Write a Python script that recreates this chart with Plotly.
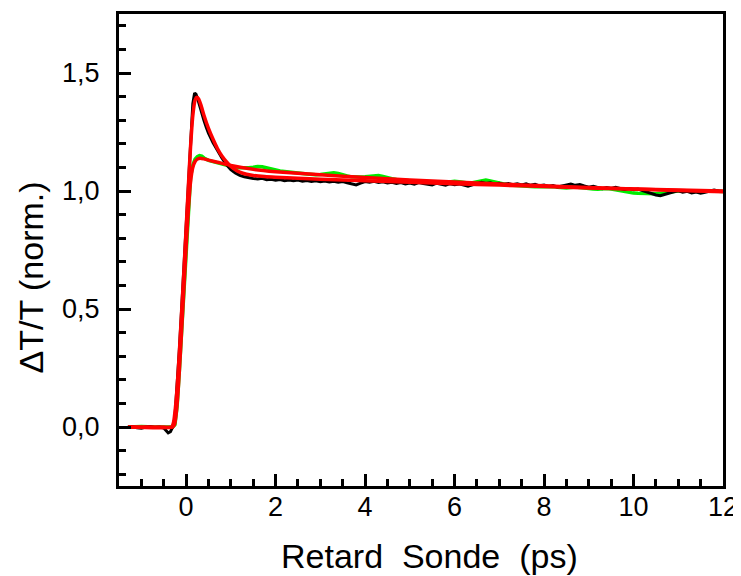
import plotly.graph_objects as go

# ---------------- data ----------------
# black measured trace: head (baseline + rise + peak + fast decay)
black_head_t = [-1.3, -1.2, -1.1, -1.0, -0.9, -0.8, -0.7, -0.6, -0.5, -0.45, -0.4, -0.35,
                -0.3, -0.25, -0.2, -0.15, -0.1, -0.05, 0.0, 0.05, 0.1, 0.15, 0.19, 0.22,
                0.26, 0.3, 0.35, 0.4, 0.45, 0.5, 0.6, 0.7, 0.8, 0.9, 1.0, 1.1, 1.2, 1.3, 1.4]
black_head_v = [0.0, 0.002, -0.003, -0.005, 0.0, 0.002, -0.002, 0.0, -0.004, -0.015, -0.025, -0.02,
                0.0, 0.04, 0.17, 0.33, 0.50, 0.67, 0.85, 1.03, 1.22, 1.37, 1.415, 1.41,
                1.39, 1.362, 1.328, 1.298, 1.27, 1.245, 1.205, 1.17, 1.14, 1.112, 1.09, 1.076, 1.066, 1.06, 1.055]
# black tail, sampled every 0.1 ps from 1.5 to 12.0
black_tail_t = [round(1.5 + 0.1 * i, 1) for i in range(106)]
black_tail_v = [1.053, 1.051, 1.054, 1.048, 1.050, 1.046, 1.049, 1.044, 1.047, 1.043,
                1.046, 1.041, 1.044, 1.040, 1.043, 1.039, 1.042, 1.038, 1.041, 1.037,
                1.040, 1.035, 1.031, 1.026, 1.033, 1.040, 1.037, 1.041, 1.036, 1.039,
                1.034, 1.037, 1.032, 1.036, 1.030, 1.034, 1.029, 1.036, 1.032, 1.028,
                1.026, 1.033, 1.029, 1.025, 1.031, 1.027, 1.030, 1.024, 1.020, 1.026,
                1.032, 1.037, 1.032, 1.035, 1.029, 1.033, 1.028, 1.032, 1.027, 1.031,
                1.026, 1.030, 1.024, 1.028, 1.022, 1.025, 1.019, 1.023, 1.017, 1.021,
                1.026, 1.029, 1.024, 1.027, 1.021, 1.016, 1.020, 1.014, 1.010, 1.015,
                1.011, 1.016, 1.012, 1.006, 1.010, 1.005, 1.008, 1.002, 0.994, 0.988,
                0.983, 0.980, 0.986, 0.993, 0.997, 1.001, 0.995, 0.999, 0.992, 0.996,
                0.991, 0.995, 0.999, 1.004, 1.000, 0.998]

# green measured trace
green_head_t = [-1.3, -1.0, -0.7, -0.5, -0.4, -0.3, -0.25, -0.2, -0.15, -0.1, -0.05, 0.0,
                0.05, 0.1, 0.15, 0.2, 0.25, 0.3, 0.35, 0.4, 0.5, 0.6, 0.7, 0.8, 0.9]
green_head_v = [0.0, 0.002, 0.0, 0.001, 0.0, 0.0, 0.01, 0.09, 0.24, 0.41, 0.59, 0.78,
                0.94, 1.06, 1.11, 1.135, 1.145, 1.15, 1.148, 1.14, 1.13, 1.125, 1.12, 1.115, 1.11]
green_tail_t = [round(1.0 + 0.1 * i, 1) for i in range(111)]
green_tail_v = [1.104, 1.100, 1.098, 1.097, 1.099, 1.101, 1.104, 1.103, 1.098, 1.092,
                1.088, 1.085, 1.083, 1.080, 1.078, 1.076, 1.074, 1.072, 1.070, 1.069,
                1.070, 1.073, 1.076, 1.077, 1.074, 1.068, 1.064, 1.060, 1.058, 1.059,
                1.060, 1.062, 1.065, 1.066, 1.062, 1.056, 1.052, 1.049, 1.047, 1.046,
                1.044, 1.042, 1.040, 1.038, 1.036, 1.034, 1.033, 1.034, 1.036, 1.039,
                1.041, 1.039, 1.036, 1.034, 1.035, 1.039, 1.043, 1.046, 1.043, 1.038,
                1.033, 1.029, 1.026, 1.024, 1.022, 1.021, 1.020, 1.019, 1.018, 1.019,
                1.020, 1.021, 1.019, 1.016, 1.014, 1.013, 1.015, 1.017, 1.015, 1.012,
                1.010, 1.008, 1.007, 1.009, 1.011, 1.008, 1.004, 1.000, 0.996, 0.993,
                0.991, 0.990, 0.989, 0.988, 0.987, 0.988, 0.990, 0.993, 0.996, 0.998,
                1.000, 1.001, 1.000, 0.998, 0.997, 0.998, 1.000, 1.001, 1.000, 0.999,
                0.998]

# red fit curves
fit_black_t = [-1.3, -0.5, -0.32, -0.28, -0.24, -0.2, -0.15, -0.1, -0.05, 0.0, 0.05, 0.1,
               0.15, 0.2, 0.24, 0.28, 0.33, 0.4, 0.5, 0.6, 0.7, 0.8, 0.9, 1.0, 1.1, 1.2,
               1.35, 1.5, 1.75, 2.0, 2.5, 3.0, 4.0, 5.0, 6.0, 7.0, 8.0, 9.0, 10.0, 11.0, 12.0]
fit_black_v = [0.0, 0.0, 0.0, 0.02, 0.08, 0.17, 0.32, 0.49, 0.66, 0.84, 1.02, 1.19,
               1.32, 1.385, 1.397, 1.39, 1.365, 1.32, 1.265, 1.22, 1.18, 1.148, 1.124, 1.104, 1.09, 1.08,
               1.071, 1.066, 1.061, 1.058, 1.054, 1.05, 1.043, 1.037, 1.031, 1.025, 1.019, 1.013, 1.008, 1.002, 0.997]
fit_green_t = [-1.3, -0.3, -0.26, -0.22, -0.18, -0.12, -0.06, 0.0, 0.05, 0.1, 0.15, 0.2,
               0.25, 0.31, 0.4, 0.5, 0.7, 1.0, 1.5, 2.0, 2.5, 3.0, 4.0, 5.0, 6.0, 7.0, 8.0,
               9.0, 10.0, 11.0, 12.0]
fit_green_v = [0.0, 0.0, 0.01, 0.06, 0.15, 0.34, 0.55, 0.76, 0.92, 1.04, 1.10, 1.125,
               1.135, 1.139, 1.136, 1.131, 1.122, 1.108, 1.092, 1.082, 1.075, 1.069, 1.057, 1.047, 1.038, 1.030, 1.022,
               1.015, 1.009, 1.004, 1.0]

x_tickvals = [0, 2, 4, 6, 8, 10, 12]
x_ticktext = ["0", "2", "4", "6", "8", "10", "12"]
y_tickvals = [0.0, 0.5, 1.0, 1.5]
y_ticktext = ["0,0", "0,5", "1,0", "1,5"]
x_title = "Retard\u00a0 Sonde\u00a0 (ps)"
y_title = "ΔT/T (norm.)"

# ---------------- figure ----------------
fig = go.Figure()
fig.add_trace(go.Scatter(x=green_head_t + green_tail_t, y=green_head_v + green_tail_v,
                         mode="lines", line=dict(color="rgb(0,235,0)", width=3.5),
                         showlegend=False, hoverinfo="skip"))
fig.add_trace(go.Scatter(x=black_head_t + black_tail_t, y=black_head_v + black_tail_v,
                         mode="lines", line=dict(color="black", width=3),
                         showlegend=False, hoverinfo="skip"))
fig.add_trace(go.Scatter(x=fit_green_t, y=fit_green_v, mode="lines",
                         line=dict(color="red", width=3.5, shape="spline", smoothing=0.6),
                         showlegend=False, hoverinfo="skip"))
fig.add_trace(go.Scatter(x=fit_black_t, y=fit_black_v, mode="lines",
                         line=dict(color="red", width=3.5, shape="spline", smoothing=0.6),
                         showlegend=False, hoverinfo="skip"))

fam = "Arial, Liberation Sans, sans-serif"
tick_font = dict(family=fam, size=27, color="black")
title_font = dict(family=fam, size=34, color="black")
# the page body has an 8px default margin, so the figure is sized/placed to compensate
fig.update_layout(
    width=733, height=568,
    margin=dict(l=111, r=18, t=6, b=90),
    paper_bgcolor="white", plot_bgcolor="white",
    font=tick_font,
    xaxis=dict(
        range=[-1.5, 12], showgrid=False, zeroline=False, automargin=False,
        showline=True, linecolor="black", linewidth=3, mirror=True,
        ticks="inside", ticklen=12, tickwidth=3, tickcolor="black",
        tickvals=x_tickvals, ticktext=x_ticktext, tickfont=tick_font,
        ticklabelstandoff=-5, ticklabeloverflow="allow",
        minor=dict(dtick=0.5, tick0=0, ticks="inside", ticklen=7, tickwidth=3, tickcolor="black", showgrid=False),
    ),
    yaxis=dict(
        range=[-0.25, 1.75], showgrid=False, zeroline=False, automargin=False,
        showline=True, linecolor="black", linewidth=3, mirror=True,
        ticks="inside", ticklen=12, tickwidth=3, tickcolor="black",
        tickvals=y_tickvals, ticktext=y_ticktext, tickfont=tick_font,
        ticklabelstandoff=11,
        minor=dict(dtick=0.1, tick0=0, ticks="inside", ticklen=7, tickwidth=3, tickcolor="black", showgrid=False),
    ),
    annotations=[
        dict(text=x_title, xref="paper", yref="paper", x=0.514, y=-0.148,
             xanchor="center", yanchor="middle", showarrow=False, font=title_font),
        dict(text=y_title, xref="paper", yref="paper", x=-0.1457, y=0.4417, textangle=-90,
             xanchor="center", yanchor="middle", showarrow=False, font=title_font),
    ],
)

fig.write_html("out.html")
